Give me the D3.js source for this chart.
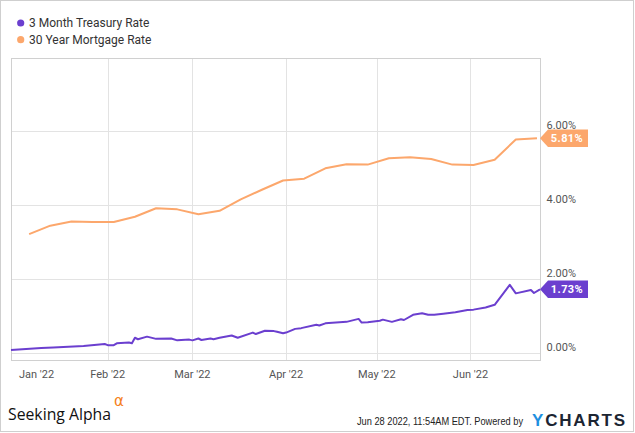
<!DOCTYPE html>
<html>
<head>
<meta charset="utf-8">
<script src="https://cdn.jsdelivr.net/npm/d3@7"></script>
<style>
  html, body { margin: 0; padding: 0; background: #fff; }
  svg { display: block; font-family: Roboto, "Liberation Sans", sans-serif; }
</style>
</head>
<body>
<div id="chart"></div>
<script>
// series names + colours
var seriesNames = ["3 Month Treasury Rate", "30 Year Mortgage Rate"];
var seriesColors = ["#6b3fcf", "#fca76c"];

// 3 month treasury, daily
var treasuryDates = ["2021-12-31", "2022-01-10", "2022-01-14", "2022-01-24", "2022-01-31", "2022-02-01",
  "2022-02-03", "2022-02-04", "2022-02-08", "2022-02-09", "2022-02-10", "2022-02-11", "2022-02-14",
  "2022-02-17", "2022-02-22", "2022-02-24", "2022-02-28", "2022-03-01", "2022-03-03", "2022-03-04",
  "2022-03-07", "2022-03-08", "2022-03-10", "2022-03-14", "2022-03-16", "2022-03-21", "2022-03-22",
  "2022-03-25", "2022-03-28", "2022-03-29", "2022-03-31", "2022-04-01", "2022-04-04", "2022-04-06",
  "2022-04-11", "2022-04-12", "2022-04-14", "2022-04-21", "2022-04-25", "2022-04-26", "2022-04-28",
  "2022-05-02", "2022-05-03", "2022-05-06", "2022-05-09", "2022-05-10", "2022-05-13", "2022-05-16",
  "2022-05-18", "2022-05-20", "2022-05-23", "2022-05-27", "2022-05-31", "2022-06-02", "2022-06-06",
  "2022-06-09", "2022-06-14", "2022-06-16", "2022-06-21", "2022-06-22", "2022-06-24"];
var treasuryValues = [0.09, 0.14, 0.16, 0.20, 0.25, 0.22,
  0.22, 0.27, 0.29, 0.27, 0.42, 0.38, 0.45,
  0.39, 0.40, 0.35, 0.37, 0.35, 0.40, 0.36,
  0.40, 0.38, 0.42, 0.48, 0.42, 0.56, 0.52,
  0.61, 0.60, 0.58, 0.54, 0.56, 0.66, 0.68,
  0.77, 0.75, 0.81, 0.85, 0.93, 0.83, 0.84,
  0.88, 0.91, 0.85, 0.92, 0.90, 1.04, 1.08,
  1.04, 1.04, 1.07, 1.11, 1.17, 1.18, 1.24,
  1.31, 1.85, 1.62, 1.71, 1.63, 1.73];

// 30 year mortgage, weekly
var mortgageDates = ["2022-01-06", "2022-01-13", "2022-01-20", "2022-01-27", "2022-02-03", "2022-02-10",
  "2022-02-17", "2022-02-24", "2022-03-03", "2022-03-10", "2022-03-17", "2022-03-24", "2022-03-31",
  "2022-04-07", "2022-04-14", "2022-04-21", "2022-04-28", "2022-05-05", "2022-05-12", "2022-05-19",
  "2022-05-26", "2022-06-02", "2022-06-09", "2022-06-16", "2022-06-23"];
var mortgageValues = [3.22, 3.45, 3.56, 3.55, 3.55, 3.69,
  3.92, 3.89, 3.76, 3.85, 4.16, 4.42, 4.67,
  4.72, 5.00, 5.11, 5.10, 5.27, 5.30, 5.25,
  5.10, 5.09, 5.23, 5.78, 5.81];

var yTicks = [0, 2, 4, 6];
var monthTicks = ["2022-01-01", "2022-02-01", "2022-03-01", "2022-04-01", "2022-05-01", "2022-06-01"];
var xDomain = ["2021-12-31", "2022-06-24"];

var width = 635, height = 433;
var plot = { left: 11, right: 540, top: 58, bottom: 360 };
var parse = d3.timeParse("%Y-%m-%d");

var x = d3.scaleTime()
  .domain(xDomain.map(parse))
  .range([plot.left, plot.right]);
var y = d3.scaleLinear()
  .domain([0, 6])
  .range([353.3, 131.3]);

var series = [
  treasuryDates.map(function (d, i) { return { date: parse(d), value: treasuryValues[i] }; }),
  mortgageDates.map(function (d, i) { return { date: parse(d), value: mortgageValues[i] }; })
];

var svg = d3.select("#chart").append("svg")
  .attr("width", width)
  .attr("height", height);

// outer frame
svg.append("rect")
  .attr("x", 0.5).attr("y", 0.5)
  .attr("width", width - 2).attr("height", height - 2)
  .attr("fill", "none").attr("stroke", "#cfcfcf");

// legend
var legend = svg.append("g");
seriesNames.forEach(function (name, i) {
  var cy = 23 + i * 16.7;
  legend.append("circle")
    .attr("cx", 20.7).attr("cy", cy).attr("r", 3.6)
    .attr("fill", seriesColors[i]);
  legend.append("text")
    .attr("x", 29).attr("y", cy + 4.2)
    .attr("font-size", 12).attr("fill", "#333")
    .text(name);
});

// grid
var grid = svg.append("g");
grid.selectAll("line.h").data(yTicks).enter().append("line")
  .attr("x1", plot.left).attr("x2", plot.right)
  .attr("y1", function (d) { return Math.round(y(d)) + 0.5; })
  .attr("y2", function (d) { return Math.round(y(d)) + 0.5; })
  .attr("stroke", "#e3e3e3");
grid.selectAll("line.v").data(monthTicks.slice(1)).enter().append("line")
  .attr("x1", function (d) { return Math.round(x(parse(d))) + 0.5; })
  .attr("x2", function (d) { return Math.round(x(parse(d))) + 0.5; })
  .attr("y1", plot.top).attr("y2", plot.bottom)
  .attr("stroke", "#e3e3e3");

// plot border
svg.append("rect")
  .attr("x", plot.left + 0.5).attr("y", plot.top + 0.5)
  .attr("width", plot.right - plot.left).attr("height", plot.bottom - plot.top)
  .attr("fill", "none").attr("stroke", "#d0d0d0");

// y labels on the right
svg.selectAll("text.ylab").data(yTicks).enter().append("text")
  .attr("class", "ylab")
  .attr("x", plot.right + 6.5)
  .attr("y", function (d) { return y(d) - 2; })
  .attr("font-size", 11).attr("fill", "#555")
  .text(function (d) { return d.toFixed(2) + "%"; });

// x labels, first one nudged inside the plot
var fmt = d3.timeFormat("%b '%y");
svg.selectAll("text.xlab").data(monthTicks).enter().append("text")
  .attr("class", "xlab")
  .attr("text-anchor", "middle")
  .attr("y", 377.5)
  .attr("font-size", 11).attr("fill", "#555")
  .text(function (d) { return fmt(parse(d)); })
  .attr("x", function (d) {
    var half = this.getComputedTextLength() / 2;
    return Math.max(x(parse(d)), plot.left + 8 + half);
  });

// lines
var line = d3.line()
  .x(function (d) { return x(d.date); })
  .y(function (d) { return y(d.value); });
series.forEach(function (s, i) {
  svg.append("path")
    .datum(s)
    .attr("d", line)
    .attr("fill", "none")
    .attr("stroke", seriesColors[i])
    .attr("stroke-width", 2)
    .attr("stroke-linejoin", "round");
});

// last value tags
series.forEach(function (s, i) {
  var last = s[s.length - 1].value;
  var cy = y(last), x0 = plot.right, h = 8.75;
  svg.append("path")
    .attr("d", "M" + x0 + "," + cy + "L" + (x0 + 8) + "," + (cy - h) + "H" + (x0 + 48) +
      "V" + (cy + h) + "H" + (x0 + 8) + "Z")
    .attr("fill", seriesColors[i]);
  svg.append("text")
    .attr("x", x0 + 27).attr("y", cy + 4)
    .attr("text-anchor", "middle")
    .attr("font-size", 11).attr("font-weight", "bold")
    .attr("letter-spacing", 0.4)
    .attr("fill", "#fff")
    .text(last.toFixed(2) + "%");
});

// footer
svg.append("text")
  .attr("x", 8).attr("y", 419.5)
  .attr("font-family", "'Open Sans', sans-serif")
  .attr("font-size", 16.5).attr("fill", "#111")
  .attr("textLength", 103).attr("lengthAdjust", "spacingAndGlyphs")
  .text("Seeking Alpha");
svg.append("text")
  .attr("x", 114).attr("y", 406)
  .attr("font-family", "'DejaVu Sans', sans-serif")
  .attr("font-size", 15).attr("fill", "#f57f20")
  .text("\u03b1");

// squeezed horizontally like the narrow source font
svg.append("text")
  .attr("transform", "translate(357,424.5) scale(0.88,1)")
  .attr("font-family", "'Liberation Sans', Arial, sans-serif")
  .attr("font-size", 10.5).attr("fill", "#222")
  .text("Jun 28 2022, 11:54AM EDT.  Powered by");
var yc = svg.append("text")
  .attr("x", 532).attr("y", 425.5)
  .attr("font-family", "'Liberation Sans', Arial, sans-serif")
  .attr("font-size", 17).attr("font-weight", "bold")
  .attr("textLength", 93).attr("lengthAdjust", "spacing");
yc.append("tspan").attr("fill", "#1e8fe0").text("Y");
yc.append("tspan").attr("fill", "#1c2532").text("CHARTS");
</script>
</body>
</html>
